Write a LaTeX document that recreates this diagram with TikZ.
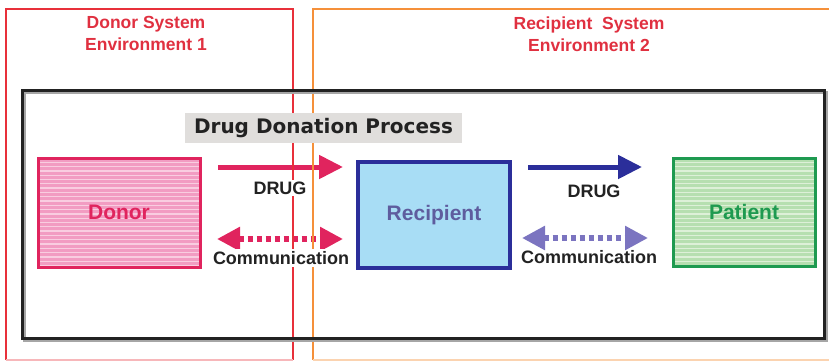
\documentclass[tikz,border=0pt]{standalone}
\usepackage{fontspec}
\setmainfont{Liberation Sans}
\newfontfamily\procfont{DejaVu Sans}
\usetikzlibrary{arrows.meta}
\definecolor{envred}{HTML}{E8303A}
\definecolor{envorange}{HTML}{F5903A}
\definecolor{titlered}{HTML}{E03040}
\definecolor{donorline}{HTML}{E0245E}
\definecolor{donorfill}{HTML}{F29CC2}
\definecolor{donorstripe}{HTML}{F9CDE0}
\definecolor{recline}{HTML}{2B2E9A}
\definecolor{recfill}{HTML}{A8DDF5}
\definecolor{rectext}{HTML}{5E5C9E}
\definecolor{patline}{HTML}{1E9A50}
\definecolor{patfill}{HTML}{B6DFB0}
\definecolor{patstripe}{HTML}{DDF0D8}
\definecolor{purplearrow}{HTML}{7B74C0}
\definecolor{graybox}{HTML}{E0DEDC}
\definecolor{darktext}{HTML}{222222}
\tikzset{
  stripes/.style={path picture={
    \foreach \k in {1,...,26}{
      \draw[#1,line width=1.3pt]
        ([yshift=-\k*4.3pt]path picture bounding box.north west) --
        ([yshift=-\k*4.3pt]path picture bounding box.north east);}}},
  envtitle/.style={text=titlered,font=\bfseries\fontsize{17.5}{22}\selectfont,align=center},
  boxlabel/.style={font=\bfseries\fontsize{21}{24}\selectfont},
  arrlabel/.style={fill=white,inner sep=2pt,text=darktext,font=\bfseries\fontsize{18}{20}\selectfont},
  bigarrow/.style={line width=5pt,-{Triangle[length=24pt,width=23pt]}},
  dotarrow/.style={line width=5.5pt,dash pattern=on 5pt off 4pt,
     {Triangle[length=23pt,width=23pt]}-{Triangle[length=23pt,width=23pt]}},
}
\begin{document}
\begin{tikzpicture}[x=1pt,y=-1pt]
\useasboundingbox (0,0) rectangle (829,361);
% arrow end points
\coordinate (d1) at (218,167);
\coordinate (d2) at (343,167);
\coordinate (c1) at (217,239);
\coordinate (c2) at (343,239);
\coordinate (e1) at (528,167);
\coordinate (e2) at (642,167);
\coordinate (f1) at (522,238);
\coordinate (f2) at (648,238);
% arrows (under the frame lines)
\draw[donorline,bigarrow] (d1) -- (d2);
\draw[donorline,dotarrow] (c1) -- (c2);
\draw[recline,bigarrow] (e1) -- (e2);
\draw[purplearrow,dotarrow] (f1) -- (f2);
% environment frames
\draw[envred,line width=2.5pt] (6,360) -- (6,9) -- (293,9) -- (293,360);
\draw[envred!35,line width=2pt] (6,360) -- (293,360);
\draw[envorange,line width=2.5pt] (829,9) -- (313,9) -- (313,360);
\draw[envorange!40,line width=2pt] (313,360) -- (829,360);
\node[envtitle] (donorsys) at (146,33) {Donor System\\Environment 1};
\node[envtitle] (recsys) at (589,34) {Recipient\ \ System\\Environment 2};
% process frame
\draw[black!35,line width=3pt] (24,92) rectangle (826,340);
\draw[darktext,line width=3pt] (22,90) rectangle (824,338);
\node[fill=graybox,minimum width=277pt,minimum height=30pt,inner sep=0pt,
      font=\procfont\bfseries\fontsize{20}{24}\selectfont,text=darktext] (proc) at (323.5,128) {Drug Donation Process};
% boxes
\node[draw=donorline,line width=3pt,fill=donorfill,stripes=donorstripe,
      minimum width=162pt,minimum height=109pt,inner sep=0pt,boxlabel,text=donorline] (donor) at (119,212.5) {Donor};
\node[draw=recline,line width=3.5pt,fill=recfill,
      minimum width=152pt,minimum height=106pt,inner sep=0pt,boxlabel,text=rectext] (recipient) at (434,215) {Recipient};
\node[draw=patline,line width=3pt,fill=patfill,stripes=patstripe,
      minimum width=142pt,minimum height=108pt,inner sep=0pt,boxlabel,text=patline] (patient) at (744,212) {Patient};
% labels (white background hides frame lines)
\node[arrlabel] (drug1) at (280,188) {DRUG};
\node[arrlabel] (comm1) at (281,258) {Communication};
\node[arrlabel,fill=none] (drug2) at (594,191) {DRUG};
\node[arrlabel,fill=none] (comm2) at (589,257) {Communication};
\end{tikzpicture}
\end{document}
